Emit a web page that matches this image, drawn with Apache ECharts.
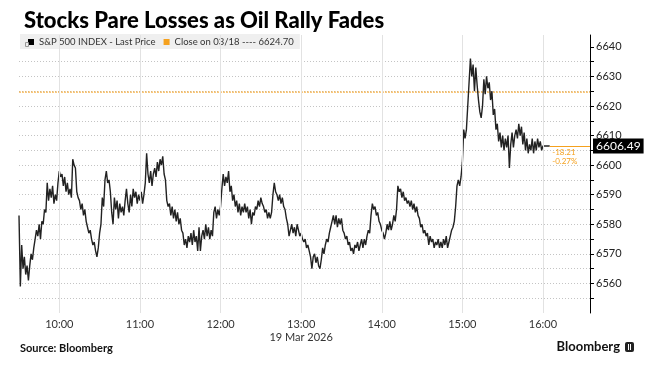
<!DOCTYPE html>
<html><head><meta charset="utf-8">
<script src="https://cdn.jsdelivr.net/npm/echarts@6/dist/echarts.min.js"></script>
<style>html,body{margin:0;padding:0;background:#fff}#c{width:656px;height:369px}</style>
</head><body><div id="c"></div>
<script>
const titleText = 'Stocks Pare Losses as Oil Rally Fades';
const seriesName = 'S&P 500 INDEX - Last Price';
const closeName = 'Close on 03/18 ---- 6624.70';
const sourceText = 'Source: Bloomberg';
const brandText = 'Bloomberg';
const prevClose = 6624.70;
const lastPrice = 6606.49;
const lastTime = 965;          // minutes after midnight of the closing print
const changeText = ['-18.21', '-0.27%'];
const startMinute = 570;       // 09:30, one price per minute
const prices = [
  6583, 6559, 6573, 6565, 6569, 6563, 6566, 6561, 6566, 6570, // 09:30
  6568, 6572, 6575, 6578, 6576, 6580, 6575, 6581, 6580, 6585, // 09:40
  6584, 6594, 6588, 6592, 6589, 6593, 6587, 6590, 6588, 6594, // 09:50
  6598, 6596, 6597, 6593, 6596, 6591, 6594, 6590, 6592, 6589, // 10:00
  6602, 6600, 6599, 6591, 6589, 6588, 6585, 6587, 6583, 6585, // 10:10
  6581, 6579, 6577, 6578, 6575, 6573, 6574, 6571, 6569, 6572, // 10:20
  6577, 6580, 6589, 6586, 6595, 6598, 6594, 6595, 6591, 6584, // 10:30
  6580, 6589, 6585, 6588, 6582, 6587, 6584, 6586, 6583, 6588, // 10:40
  6592, 6587, 6584, 6590, 6586, 6592, 6589, 6591, 6587, 6590, // 10:50
  6588, 6591, 6587, 6590, 6594, 6604, 6597, 6594, 6598, 6593, // 11:00
  6597, 6599, 6596, 6601, 6598, 6602, 6600, 6603, 6597, 6595, // 11:10
  6588, 6586, 6587, 6583, 6586, 6582, 6585, 6581, 6584, 6580, // 11:20
  6582, 6578, 6577, 6573, 6575, 6572, 6576, 6574, 6577, 6573, // 11:30
  6578, 6574, 6576, 6571, 6579, 6571, 6576, 6578, 6575, 6580, // 11:40
  6576, 6579, 6575, 6578, 6576, 6584, 6586, 6582, 6585, 6583, // 11:50
  6586, 6592, 6597, 6593, 6596, 6594, 6598, 6591, 6593, 6588, // 12:00
  6590, 6586, 6588, 6584, 6587, 6583, 6586, 6584, 6587, 6584, // 12:10
  6586, 6582, 6585, 6580, 6584, 6583, 6586, 6585, 6588, 6586, // 12:20
  6589, 6587, 6586, 6584, 6585, 6582, 6584, 6582, 6584, 6590, // 12:30
  6594, 6591, 6590, 6588, 6590, 6587, 6589, 6586, 6585, 6582, // 12:40
  6580, 6576, 6578, 6580, 6577, 6579, 6576, 6580, 6578, 6576, // 12:50
  6577, 6575, 6574, 6575, 6572, 6573, 6571, 6569, 6565, 6569, // 13:00
  6570, 6567, 6569, 6566, 6565, 6568, 6572, 6570, 6573, 6575, // 13:10
  6574, 6577, 6579, 6581, 6583, 6580, 6583, 6579, 6582, 6580, // 13:20
  6582, 6578, 6577, 6575, 6576, 6573, 6574, 6571, 6572, 6570, // 13:30
  6573, 6572, 6574, 6571, 6573, 6575, 6572, 6575, 6573, 6576, // 13:40
  6578, 6577, 6583, 6587, 6585, 6586, 6583, 6584, 6581, 6580, // 13:50
  6578, 6577, 6575, 6577, 6580, 6578, 6581, 6578, 6580, 6583, // 14:00
  6581, 6585, 6593, 6591, 6592, 6589, 6591, 6588, 6589, 6587, // 14:10
  6588, 6586, 6588, 6585, 6587, 6584, 6586, 6583, 6582, 6579, // 14:20
  6580, 6577, 6578, 6576, 6577, 6573, 6576, 6574, 6575, 6572, // 14:30
  6574, 6573, 6575, 6572, 6574, 6572, 6575, 6573, 6576, 6572, // 14:40
  6574, 6576, 6578, 6579, 6581, 6586, 6593, 6595, 6593, 6596, // 14:50
  6601, 6612, 6609, 6612, 6620, 6628, 6636, 6630, 6634, 6625, // 15:00
  6633, 6627, 6622, 6618, 6616, 6620, 6629, 6624, 6630, 6626, // 15:10
  6628, 6622, 6625, 6617, 6619, 6612, 6614, 6608, 6611, 6606, // 15:20
  6610, 6605, 6609, 6606, 6610, 6599, 6607, 6611, 6606, 6610, // 15:30
  6612, 6609, 6614, 6610, 6613, 6607, 6611, 6605, 6609, 6604, // 15:40
  6607, 6605, 6609, 6604, 6608, 6605, 6609, 6606, 6608, 6605, // 15:50
  6606.49                                                     // 16:00
];
const hourTicks = [600, 660, 720, 780, 840, 900, 960];
const hourLabels = ['10:00', '11:00', '12:00', '13:00', '14:00', '15:00', '16:00'];
const dateLabel = '19 Mar 2026';
const dateUnder = 780;
const xMin = 570, xMax = 995;
const yMin = 6550, yMax = 6644, yStep = 10;
const yTicks = [6550, 6555, 6560, 6565, 6570, 6575, 6580, 6585, 6590, 6595, 6600,
  6605, 6610, 6615, 6620, 6625, 6630, 6635, 6640];

const priceData = prices.map((v, i) => [startMinute + i, v]);
priceData.push([lastTime, lastPrice]);

const FONT = 'Lato';
const ORANGE = '#f5a11e';
const GRID = '#c4c4c4';

const chart = echarts.init(document.getElementById('c'), null, {renderer: 'canvas'});
chart.setOption({
  animation: false,
  backgroundColor: '#fff',
  textStyle: {fontFamily: FONT},
  title: {
    text: titleText, left: 19, top: 5,
    textStyle: {fontFamily: FONT, fontWeight: 900, fontSize: 22, color: '#000'}
  },
  legend: {
    left: 20, top: 34, padding: [3, 6, 2, 8], z: 4,
    backgroundColor: '#efefef',
    itemGap: 8, itemWidth: 6, itemHeight: 6, icon: 'rect',
    textStyle: {fontFamily: FONT, fontSize: 9.5, color: '#333'},
    data: [
      {name: seriesName, itemStyle: {color: '#000'}},
      {name: closeName, itemStyle: {color: ORANGE}}
    ],
    selectedMode: false
  },
  grid: {left: 19, right: 66, top: 35, bottom: 56},
  xAxis: {
    type: 'value', min: xMin, max: xMax,
    axisLine: {show: false}, axisTick: {show: false}, splitLine: {show: false},
    axisLabel: {
      customValues: hourTicks,
      margin: 5, fontSize: 11, color: '#333', fontFamily: FONT, lineHeight: 13,
      formatter: v => {
        const i = hourTicks.indexOf(v);
        if (i < 0) return '';
        return v === dateUnder ? hourLabels[i] + '\n' + dateLabel : hourLabels[i];
      }
    }
  },
  yAxis: {
    type: 'value', position: 'right', min: yMin, max: yMax, interval: yStep,
    axisLine: {show: true, lineStyle: {color: '#000', width: 1}},
    axisTick: {show: true, customValues: yTicks, length: 4, lineStyle: {color: '#000'}},
    axisLabel: {margin: 6, fontSize: 11, color: '#222', fontFamily: FONT,
      showMinLabel: false, showMaxLabel: false, formatter: v => String(v)},
    splitLine: {show: true, showMinLine: false, showMaxLine: false,
      lineStyle: {color: GRID, type: [1, 2], width: 1}}
  },
  series: [
    {
      name: closeName, type: 'line', z: 2,
      data: [[xMin, prevClose], [xMax, prevClose]],
      symbol: 'none',
      itemStyle: {color: ORANGE},
      lineStyle: {color: ORANGE, width: 1, type: [2, 1]}
    },
    {
      name: seriesName, type: 'line', z: 3,
      data: priceData, symbol: 'none', itemStyle: {color: '#000'},
      lineStyle: {color: '#222', width: 1.4},
      markLine: {
        silent: true, symbol: ['none', 'none'], animation: false,
        lineStyle: {color: ORANGE, width: 1, type: 'solid'},
        label: {show: false},
        data: [
          [{coord: [lastTime, lastPrice]}, {coord: [xMax, lastPrice],
            label: {show: true, position: 'end', distance: 3,
              formatter: lastPrice.toFixed(2),
              color: '#fff', backgroundColor: '#000', padding: [2, 3, 1, 3],
              fontSize: 12, fontFamily: FONT}}]
        ].concat(hourTicks.map(t => ({xAxis: t,
          lineStyle: {color: '#e2e2e2', width: 1, type: 'solid'}})))
      },
      markPoint: {
        silent: true, symbol: 'rect', symbolSize: 1, animation: false,
        itemStyle: {color: 'rgba(0,0,0,0)'},
        label: {
          show: true, position: [3, 2], align: 'left', verticalAlign: 'top',
          formatter: changeText.join('\n'),
          color: ORANGE, fontSize: 8, lineHeight: 9, fontFamily: FONT
        },
        data: [{coord: [lastTime, lastPrice]}]
      }
    }
  ],
  graphic: [
    {type: 'rect', left: 23, top: 40, shape: {width: 3, height: 4}, z: 10,
      style: {fill: 'none', stroke: '#999', lineWidth: 1}},
    {type: 'text', left: 20, top: 343,
      style: {text: sourceText, font: 'bold 11px Lato', fill: '#111'}},
    {type: 'text', right: 36, top: 340,
      style: {text: brandText, font: 'bold 13px Lato', fill: '#111'}},
    {type: 'rect', right: 22, top: 342, shape: {width: 9, height: 10, r: 2},
      style: {fill: '#222'}},
    {type: 'rect', right: 27, top: 344, shape: {width: 1, height: 6},
      style: {fill: '#fff'}},
    {type: 'rect', right: 25, top: 344, shape: {width: 1, height: 6},
      style: {fill: '#fff'}}
  ]
});
</script></body></html>
